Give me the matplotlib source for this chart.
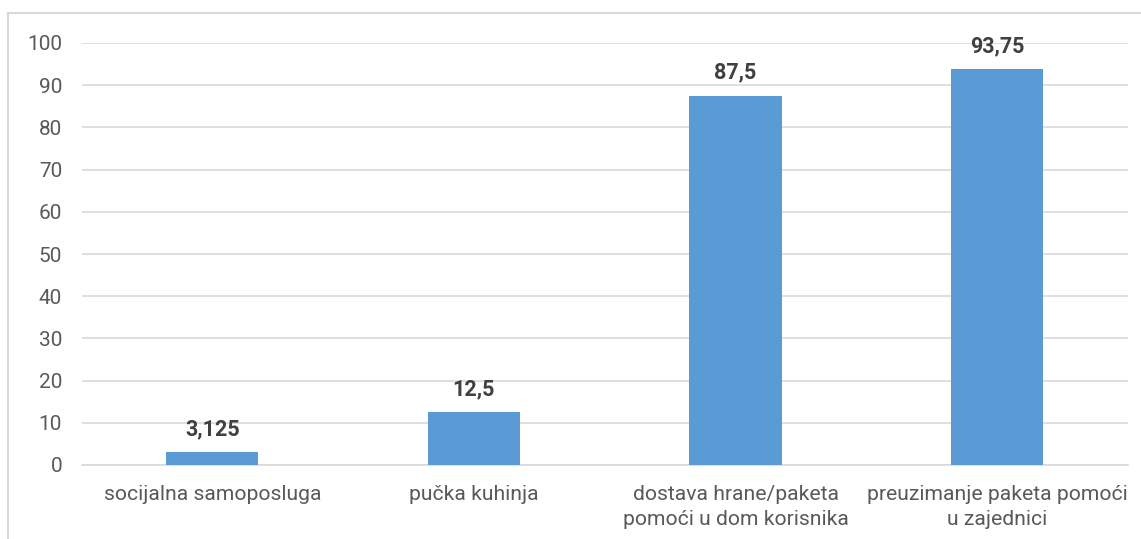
import matplotlib
matplotlib.use("Agg")
import matplotlib.pyplot as plt
from matplotlib.patches import Rectangle

categories = ["socijalna samoposluga", "pučka kuhinja",
              "dostava hrane/paketa\npomoći u dom korisnika",
              "preuzimanje paketa pomoći\nu zajednici"]
values = [3.125, 12.5, 87.5, 93.75]
value_labels = ["3,125", "12,5", "87,5", "93,75"]
yticks = [0, 10, 20, 30, 40, 50, 60, 70, 80, 90, 100]

plt.rcParams['font.family'] = ['Roboto', 'DejaVu Sans']
W, H = 1141, 539
fig = plt.figure(figsize=(W/100, H/100), dpi=100)
fig.patches.append(Rectangle((8/W, -0.1), 1.2, 1 - 13/H + 0.1, transform=fig.transFigure,
                             fill=False, edgecolor='#D9D9D9', linewidth=1.5))
ax = fig.add_axes([81.5/W, 1 - 465/H, (1128-81.5)/W, (465-43)/H])
x = list(range(len(categories)))
ax.bar(x, values, width=0.353, color='#5B9BD5', zorder=3)
ax.set_xlim(-0.5, len(categories) - 0.5)
ax.set_ylim(0, 100)
ax.set_yticks(yticks)
ax.set_yticklabels([str(t) for t in yticks], color='#595959', fontsize=15)
ax.set_xticks(x)
ax.set_xticklabels(categories, color='#595959', fontsize=15.2, linespacing=1.4)
ax.tick_params(axis='both', length=0)
ax.tick_params(axis='x', pad=14.5)
ax.tick_params(axis='y', pad=14)
ax.grid(axis='y', color='#D9D9D9', linewidth=1.2, zorder=0)
for s in ['left', 'right', 'top']:
    ax.spines[s].set_visible(False)
ax.spines['bottom'].set_color('#D9D9D9')
ax.spines['bottom'].set_linewidth(1.2)
for xi, v, lab in zip(x, values, value_labels):
    ax.annotate(lab, (xi, v), xytext=(0, 12.2), textcoords='offset points',
                ha='center', va='baseline', fontsize=15.5, fontweight='bold', color='#404040')
fig.savefig("out.png", dpi=100)
